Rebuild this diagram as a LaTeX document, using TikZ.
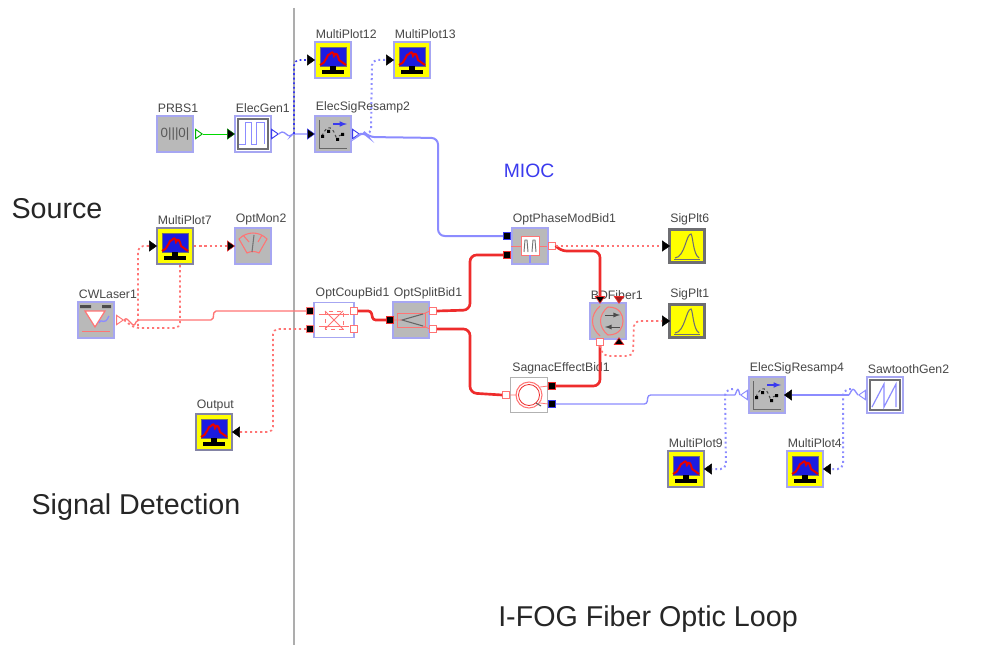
\documentclass[tikz,border=0pt]{standalone}
\usepackage{fontspec}
\setmainfont{Liberation Sans}
\usetikzlibrary{shapes.geometric}
\definecolor{edgeb}{HTML}{A6A6F2}
\definecolor{boxg}{HTML}{B9B9B9}
\definecolor{darkg}{HTML}{6E6E72}
\definecolor{lblue}{HTML}{8C8CFF}
\definecolor{dblue}{HTML}{3A3AEE}
\definecolor{lred}{HTML}{FF7474}
\definecolor{tred}{HTML}{EE2C2C}
\definecolor{scr}{HTML}{1C1CE0}
\definecolor{yel}{HTML}{FFFF00}
\tikzset{
 blkbase/.style={rectangle,inner sep=0pt,minimum width=27.5pt,minimum height=26.5pt,line width=1.5pt,draw=edgeb},
 graybox/.style={blkbase,fill=boxg},
 whitebox/.style={blkbase,fill=white,line width=.8pt},
 genbox/.style={blkbase,fill=white},
 monbox/.style={blkbase,fill=yel,draw=#1},
 monbox/.default=edgeb,
 plotbox/.style={blkbase,fill=yel,draw=darkg,line width=2.4pt,minimum width=26pt,minimum height=25pt},
 lab/.style={font=\fontsize{9.2}{10}\selectfont,text=black!72,inner sep=0pt,anchor=south west},
 big/.style={font=\fontsize{21.5}{24}\selectfont,text=black!85,inner sep=0pt},
 tri/.style={isosceles triangle,isosceles triangle apex angle=70,inner sep=0pt,minimum size=#1,shape border uses incircle},
 opent/.style={tri=5pt,draw=#1,fill=white,line width=.7pt},
 ain/.style={tri=5.5pt,fill=black,draw=#1,line width=.3pt},
 ain/.default=black,
 ainl/.style={tri=5.5pt,fill=black,draw=black,line width=.3pt,shape border rotate=180},
 tup/.style={tri=5pt,fill=#1,draw=tred,line width=.5pt,shape border rotate=90},
 tdn/.style={tri=5pt,fill=#1,draw=tred,line width=.5pt,shape border rotate=270},
 opens/.style={rectangle,inner sep=0pt,minimum size=5pt,draw=lred,fill=white,line width=.8pt},
 blks/.style={rectangle,inner sep=0pt,minimum width=5pt,minimum height=5pt,draw=#1,fill=black,line width=.8pt},
 wblue/.style={draw=lblue,line width=1.5pt,rounded corners=5pt},
 tblue/.style={draw=lblue,line width=1pt,rounded corners=2pt},
 dotb/.style={draw=dblue,line width=1.2pt,dash pattern=on 1.4pt off 2pt,rounded corners=4pt},
 dotl/.style={draw=lblue,line width=1.5pt,dash pattern=on 1.4pt off 2.2pt,rounded corners=4pt},
 dotr/.style={draw=lred,line width=1.3pt,dash pattern=on 1.6pt off 2.2pt,rounded corners=4pt},
 redt/.style={draw=tred,line width=2pt,rounded corners=5pt},
 redl/.style={draw=lred,line width=1pt,rounded corners=1.5pt},
 pics/mon/.style={code={
  \fill[scr] (-13,-13) rectangle (13,6);
  \draw[darkg,line width=.6pt] (-13,-13) rectangle (13,6);
  \draw[red!90!black,line width=1.5pt] (-13,5) .. controls (-7,4) and (-6,-7) .. (-3,-6) .. controls (-1,-8) and (0,-9) .. (1,-4) .. controls (3,-9) and (5,-5) .. (6,0) -- (13,5);
  \fill[black] (-3,6) rectangle (3,10);
  \fill[black] (-11,10) rectangle (11,14);
 }},
 pics/plot/.style={code={
  \draw[darkg,line width=.7pt] (-13,13) -- (13,13);
  \draw[darkg,line width=.8pt] (-12,12) .. controls (-2,11) and (-1,-12) .. (4,-12) .. controls (6,-10) and (6,8) .. (12,12);
 }},
 pics/prbs/.style={code={
  \node[inner sep=0pt,font=\fontsize{10}{10}\selectfont,text=black!65] at (0,0) {0|||0|};
 }},
 pics/gen/.style={code={
  \draw[darkg,line width=1.6pt] (-15,-15) rectangle (15,15);
  \draw[lblue,line width=.7pt] (-14,10) -- (-8,10) -- (-8,-12) -- (-2,-12) -- (-2,10) -- (3,10) -- (3,-12) -- (11,-12) -- (11,10);
 }},
 pics/saw/.style={code={
  \draw[darkg,line width=1.6pt] (-15,-15) rectangle (15,15);
  \draw[lblue,line width=.9pt] (-13,12) -- (-1,-11) -- (-1,12) -- (11,-11) -- (11,12);
 }},
 pics/resamp/.style={code={
  \draw[black!60,line width=.5pt] (-14,-14) -- (-14,14) -- (14,14);
  \draw[black!70,line width=.8pt,dash pattern=on 2pt off 2pt] (-11,2) .. controls (-5,-12) and (0,-6) .. (3,3) -- (11,0);
  \fill[black] (-12,1) rectangle (-9,4) (-6,-4) rectangle (-3,-1) (3,4) rectangle (6,7) (8,-1) rectangle (11,2);
  \draw[-latex,dblue,line width=.9pt] (0,-10) -- (14,-10);
 }},
 pics/laser/.style={code={
  \fill[black!70] (-16,-15) rectangle (-5,-12) (6,-15) rectangle (15,-12);
  \draw[lred,line width=.9pt,fill=white] (-11,-9) -- (9,-9) -- (-1,7) -- cycle;
  \draw[lred,line width=.6pt] (-14,11) -- (14,11);
  \draw[lblue,line width=1pt] (3,3) .. controls (6,-3) and (8,7) .. (13,-4);
 }},
 pics/omon/.style={code={
  \draw[lred,line width=.8pt] (-14,-7) .. controls (-6,-15) and (6,-15) .. (14,-7) -- (6,7) .. controls (2,5) and (-2,5) .. (-6,7) -- cycle;
  \draw[lred,line width=.8pt] (-10,-11) -- (-4,-4) (9,-11) -- (5,-4);
  \draw[black!55,line width=.8pt] (1,-11) -- (-1,6);
 }},
 pics/coup/.style={code={
  \draw[lred,line width=.6pt] (-15,-6) -- (15,-6) (-15,6) -- (15,6);
  \draw[lred,line width=.6pt,dashed] (-9,-9) rectangle (9,9);
  \draw[lred,line width=.7pt] (-9,-9) -- (9,9) (-9,9) -- (9,-9);
 }},
 pics/split/.style={code={
  \draw[lred,line width=.7pt] (-14,-7) rectangle (14,7);
  \draw[black!60,line width=.8pt] (12,-6) -- (-9,0) -- (12,6);
  \draw[lred,line width=.6pt] (-19,0) -- (-9,0) (12,-6) -- (19,-9) (12,6) -- (19,9);
 }},
 pics/phase/.style={code={
  \draw[lred,line width=.7pt,fill=white] (-9,-10) rectangle (9,9);
  \draw[lred,line width=.6pt] (-19,0) -- (-9,0) (9,0) -- (17,0);
  \draw[black!55,line width=.7pt] (-6,6) -- (-5,-6) -- (-3,-6) -- (-2,6) (2,6) -- (3,-6) -- (5,-6) -- (6,6);
  \draw[lblue,line width=.9pt] (0,9) -- (0,17);
 }},
 pics/bd/.style={code={
  \draw[lred,line width=.8pt] (-8,-15) .. controls (-18,-6) and (-18,6) .. (-8,15);
  \draw[lred,line width=.8pt] (0,-14) .. controls (-10,-6) and (-10,6) .. (0,14) .. controls (12,14) and (15,6) .. (15,0) .. controls (15,-6) and (12,-14) .. (0,-14);
  \draw[-latex,black!70,line width=.7pt] (-3,-6) -- (12,-6);
  \draw[-latex,black!70,line width=.7pt] (12,6) -- (-3,6);
 }},
 pics/coil/.style={code={
  \draw[lred,line width=.8pt] (0,0) circle (13);
  \draw[tred,line width=.6pt] (0,0) circle (10.5);
  \draw[black!60,line width=.8pt] (7,8) -- (12,11);
  \draw[lred,line width=.6pt] (-19,0) -- (-12,0) (11,-8) -- (19,-9) (11,8) -- (19,9);
 }},
}
\newcommand{\blk}[6]{%
 \node[#4] (#1) at (#2,#3) {};
 \pic at (#1) {#5};
 \node[lab] (#1-lab) at ([xshift=1.5pt,yshift=1.5pt]#1.north west) {#6};
}
\begin{document}
\begin{tikzpicture}[x=.75pt,y=-.75pt]
\useasboundingbox (0,0) rectangle (991,645);
\fill[white] (0,0) rectangle (991,645);
\coordinate (divtop) at (294,8);
\coordinate (divbot) at (294,645);
\draw[black!32,line width=1.1pt] (divtop) -- (divbot);

\node[big,anchor=center] (t-src) at (57,209) {Source};
\node[big,anchor=center] (t-sig) at (136,507) {Signal Detection};
\node[big,anchor=center] (t-fog) at (648,619) {I-FOG Fiber Optic Loop};
\node[inner sep=0pt,text=dblue,font=\fontsize{14.5}{16}\selectfont] (t-mioc) at (529,171) {MIOC};

\blk{prbs}{175}{134}{graybox}{prbs}{PRBS1}
\blk{gen}{253}{134}{genbox}{gen}{ElecGen1}
\blk{rs2}{333}{134}{graybox}{resamp}{ElecSigResamp2}
\blk{mp12}{333}{60}{monbox}{mon}{MultiPlot12}
\blk{mp13}{412}{60}{monbox}{mon}{MultiPlot13}
\blk{mp7}{175}{246}{monbox=darkg!60!edgeb}{mon}{MultiPlot7}
\blk{om2}{253}{246}{graybox}{omon}{OptMon2}
\blk{cw}{96}{320}{graybox}{laser}{CWLaser1}
\blk{coup}{334}{320}{whitebox,minimum width=30pt}{coup}{OptCoupBid1}
\blk{split}{411}{320}{graybox}{split}{OptSplitBid1}
\blk{out}{214}{432}{monbox=darkg!60!edgeb}{mon}{Output}
\blk{pm}{530}{246}{graybox}{phase}{OptPhaseModBid1}
\blk{sp6}{687}{246}{plotbox}{plot}{SigPlt6}
\blk{sp1}{687}{321}{plotbox}{plot}{SigPlt1}
\blk{bd}{608}{321}{graybox}{bd}{BDFiber1}
\blk{sag}{529}{395}{blkbase,fill=white,draw=black!30,line width=.9pt}{coil}{SagnacEffectBid1}
\blk{rs4}{767}{395}{graybox}{resamp}{ElecSigResamp4}
\blk{saw}{885}{395}{genbox}{saw}{SawtoothGen2}
\blk{mp9}{686}{469}{monbox=darkg!60!edgeb}{mon}{MultiPlot9}
\blk{mp4}{805}{469}{monbox}{mon}{MultiPlot4}

% ports
\node[opent=green!70!black] (prbs-o) at (198,134) {};
\node[ain=green!50!black] (gen-i) at (230,134) {};
\node[opent=dblue] (gen-o) at (274,134) {};
\node[ain=dblue] (rs2-i) at (310,134) {};
\node[opent=dblue] (rs2-o) at (355,134) {};
\node[ain] (mp12-i) at (310,60) {};
\node[ain] (mp13-i) at (389,60) {};
\node[ain] (mp7-i) at (152,246) {};
\node[ain=tred] (om2-i) at (230,246) {};
\node[opent=lred] (cw-o) at (119,320) {};
\node[blks=lred] (coup-a) at (310,311) {};
\node[blks=lred] (coup-b) at (310,329) {};
\node[opens] (coup-c) at (354,311) {};
\node[opens] (coup-d) at (354,329) {};
\node[blks=tred] (split-i) at (390,320) {};
\node[opens] (split-a) at (433,311) {};
\node[opens] (split-b) at (433,329) {};
\node[ainl] (out-i) at (237,432) {};
\node[blks=dblue] (pm-a) at (507,236) {};
\node[blks=tred] (pm-b) at (507,255) {};
\node[opens] (pm-o) at (552,246) {};
\node[ain] (sp6-i) at (665,246) {};
\node[ain] (sp1-i) at (665,321) {};
\node[tdn=black] (bd-a) at (600,299) {};
\node[tdn=tred!70!black] (bd-b) at (619,299) {};
\node[opens] (bd-c) at (600,342) {};
\node[tup=black] (bd-d) at (619,342) {};
\node[opens] (sag-i) at (506,395) {};
\node[blks=tred] (sag-a) at (552,386) {};
\node[blks=dblue] (sag-b) at (552,404) {};
\node[opent=lblue,shape border rotate=180] (rs4-o) at (745,395) {};
\node[ainl] (rs4-i) at (789,395) {};
\node[opent=lblue,shape border rotate=180] (saw-o) at (863,395) {};
\node[ainl] (mp9-i) at (709,469) {};
\node[ainl] (mp4-i) at (828,469) {};
\coordinate (j9) at (725,390);
\coordinate (j4) at (843,390);

% connectors
\draw[green!85!black,line width=.7pt] (prbs-o.east) -- (gen-i.west);
\draw[tblue] (gen-o.east) -- ++(3,-3) -- ++(8,6) -- ++(2,-3) -- (rs2-i.west);
\draw[dotb] (294,134) -- (294,60) -- (mp12-i.west);
\draw[wblue] (rs2-o.east) -- ++(3,-3) -- ++(5,6) -- ++(70,1) |- (pm-a.west);
\draw[dotl] (rs2-o.east) -- (371,134) -- (372,60) -- (mp13-i.west);
\draw[dotr] (mp7.east) -- (om2-i.west);
\draw[redl] (cw-o.east) -- ++(2,-2) -- ++(8,8) -- ++(3,-6) -- (213,320) -- (214,311) -- (coup-a.west);
\draw[dotr] (cw-o.east) -- ++(10,8) -- (180,328) -- ([xshift=3.75pt]mp7.south);
\draw[dotr] (138,326) -- (138,246) -- (mp7-i.west);
\draw[dotr] (out-i.east) -- (273,432) -- (273,329) -- (coup-b.west);
\draw[redt,rounded corners=2pt] (coup-c.east) -- (371,311) -- (373,320) -- (split-i.west);
\draw[redt] (split-a.east) -- (470,310) -- (470,255) -- (pm-b.west);
\draw[redt] (split-b.east) -- (470,329) -- (470,393) -- (sag-i.west);
\draw[redt] (pm-o.east) -- ++(4,5) -- (600,251) -- (bd-a.north);
\draw[dotr] (pm-o.east) -- (sp6-i.west);
\draw[redt] (bd-c.south) |- (sag-a.east);
\draw[dotr] (bd-c.south) -- (603,356) -- (633,356) -- (634,321) -- (sp1-i.west);
\draw[tblue] (sag-b.east) -- (647,404) -- (648,395) -- (735,395);
\draw[tblue] (735,395) -- (738,388) -- (rs4-o.west);
\draw[tblue,line width=1.4pt] (rs4-i.east) -- (849,395);
\draw[tblue] (849,395) -- (853,388) -- (saw-o.west);
\draw[dotl] (733,389) -- (j9) -- (726,469) -- (mp9-i.east);
\draw[dotl] (851,389) -- (j4) -- (843,469) -- (mp4-i.east);
\end{tikzpicture}
\end{document}
